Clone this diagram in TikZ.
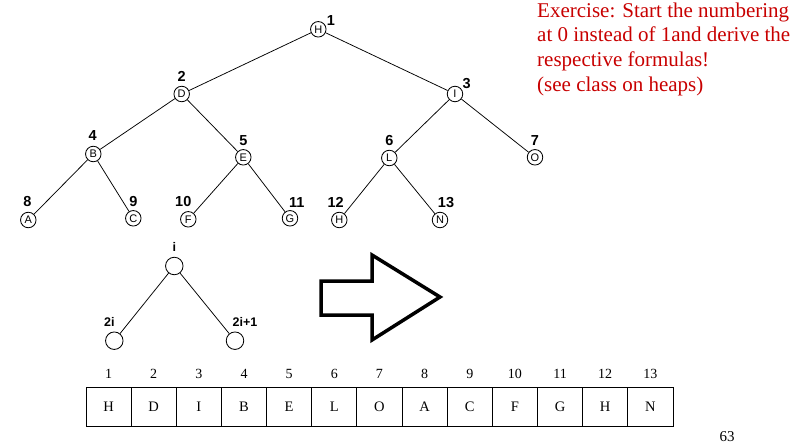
\documentclass[tikz,border=0pt]{standalone}
\usepackage{fontspec}
\setmainfont{Liberation Serif}
\setsansfont{Liberation Sans}
\usetikzlibrary{positioning}
\definecolor{exred}{RGB}{200,0,0}

\begin{document}
\begin{tikzpicture}[x=1pt, y=-1pt,
    heapnode/.style={circle, draw, line width=0.85pt, minimum size=15.5pt, inner sep=0pt, font=\sffamily\fontsize{11}{12}\selectfont},
    emptynode/.style={circle, draw, line width=0.85pt, minimum size=17.5pt, inner sep=0pt},
    idx/.style={inner sep=0pt, font=\sffamily\bfseries\fontsize{14.5}{16}\selectfont},
    sublbl/.style={inner sep=0pt, font=\sffamily\bfseries\fontsize{12.5}{14}\selectfont},
    cell/.style={rectangle, draw, line width=0.9pt, minimum width=45.15pt, minimum height=39pt, inner sep=0pt, font=\fontsize{14.5}{16}\selectfont},
    cellnum/.style={inner sep=0pt, font=\fontsize{14}{16}\selectfont},
    edge/.style={line width=0.75pt}
]
    \useasboundingbox (0,0) rectangle (790,444);

    % heap as a tree
    \node[heapnode] (n1) at (318.3,29.3) {H};
    \node[heapnode] (n2) at (181.7,94) {D};
    \node[heapnode] (n3) at (455,94) {I};
    \node[heapnode] (n4) at (93.3,154) {B};
    \node[heapnode] (n5) at (243.3,157.3) {E};
    \node[heapnode] (n6) at (389.3,158) {L};
    \node[heapnode] (n7) at (535,157.3) {O};
    \node[heapnode] (n8) at (28.3,220) {A};
    \node[heapnode] (n9) at (133.3,218.3) {C};
    \node[heapnode] (n10) at (188.3,219.3) {F};
    \node[heapnode] (n11) at (290,218.3) {G};
    \node[heapnode] (n12) at (339.3,220) {H};
    \node[heapnode] (n13) at (440,220) {N};

    \node[idx] (i1) at (331,21) {1};
    \node[idx] (i2) at (181.7,76) {2};
    \node[idx] (i3) at (466.7,84) {3};
    \node[idx] (i4) at (92.7,136) {4};
    \node[idx] (i5) at (243.3,140.7) {5};
    \node[idx] (i6) at (389.3,140.7) {6};
    \node[idx] (i7) at (535,141) {7};
    \node[idx] (i8) at (27.3,202) {8};
    \node[idx] (i9) at (133.3,202) {9};
    \node[idx] (i10) at (183.3,201.5) {10};
    \node[idx] (i11) at (296.7,202.7) {11};
    \node[idx] (i12) at (335.7,202.7) {12};
    \node[idx] (i13) at (446,202.7) {13};

    \draw[edge] (n1) -- (n2);
    \draw[edge] (n1) -- (n3);
    \draw[edge] (n2) -- (n4);
    \draw[edge] (n2) -- (n5);
    \draw[edge] (n3) -- (n6);
    \draw[edge] (n3) -- (n7);
    \draw[edge] (n4) -- (n8);
    \draw[edge] (n4) -- (n9);
    \draw[edge] (n5) -- (n10);
    \draw[edge] (n5) -- (n11);
    \draw[edge] (n6) -- (n12);
    \draw[edge] (n6) -- (n13);

    % parent and children
    \node[emptynode] (parent) at (174.3,266) {};
    \node[emptynode] (left) at (114.3,340.7) {};
    \node[emptynode] (right) at (235,340.7) {};
    \node[sublbl] (lp) at (174.3,247.3) {i};
    \node[sublbl] (ll) at (109.3,321.7) {2i};
    \node[sublbl] (lr) at (245,321.7) {2i+1};
    \draw[edge] (parent) -- (left);
    \draw[edge] (parent) -- (right);

    % block arrow
    \draw[line width=3.5pt, line join=miter] (321,281) -- (372,281) -- (372,255)
        -- (440,297) -- (372,340) -- (372,315) -- (321,315) -- cycle;

    % heap as an array
    \foreach \ch [count=\k] in {H,D,I,B,E,L,O,A,C,F,G,H,N} {
        \node[cell] (cell\k) at ({86+45.15*(\k-0.5)},406.5) {\ch};
        \node[cellnum] (num\k) at ({86+45.15*(\k-0.5)},374) {\k};
    }

    \node[anchor=north west, align=left, inner sep=0pt, text=exred, font=\fontsize{21}{24.8}\selectfont]
        (exercise) at (537,2.4)
        {Exercise: Start the numbering\\at 0 instead of 1and derive the\\respective formulas!\\(see class on heaps)};

    \node[inner sep=0pt, font=\fontsize{15}{17}\selectfont] (page) at (727,437) {63};
\end{tikzpicture}
\end{document}
